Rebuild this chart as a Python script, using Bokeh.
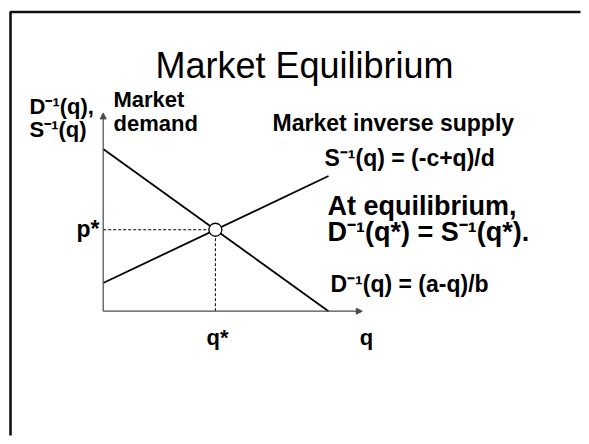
from bokeh.plotting import figure
from bokeh.models import Range1d, Arrow, NormalHead
from bokeh.core.properties import value
from bokeh.embed import file_html
from bokeh.resources import INLINE

# ---- data (economic units) ----
demand_q = [0.0, 10.0]
demand_p = [7.2, 0.0]
supply_q = [0.0, 10.0]
supply_p = [1.25, 6.0]
q_axis_max = 11.5
p_axis_max = 8.8

title_text = "Market Equilibrium"
y_axis_label = ["D\u207b\u00b9(q),", "S\u207b\u00b9(q)"]
demand_label = ["Market", "demand"]
supply_label = "Market inverse supply"
supply_eq = "S\u207b\u00b9(q) = (-c+q)/d"
demand_eq = "D\u207b\u00b9(q) = (a-q)/b"
equil_text = ["At equilibrium,", "D\u207b\u00b9(q*) = S\u207b\u00b9(q*)."]
p_star = "p*"
q_star = "q*"
q_label = "q"

# equilibrium from the two lines
sd = (demand_p[1] - demand_p[0]) / (demand_q[1] - demand_q[0])
ss = (supply_p[1] - supply_p[0]) / (supply_q[1] - supply_q[0])
qe = (supply_p[0] - demand_p[0]) / (sd - ss)
pe = demand_p[0] + sd * qe

# ---- layout mapping (screen px of page -> data units) ----
W, H = 581, 436
OFF = 0
S = 22.53
X0, Y0 = 102.7, 310.7


def dx(X):
    return (X - X0) / S


def dy(Y):
    return (Y0 - Y) / S


p = figure(width=W, height=H, output_backend="svg", toolbar_location=None,
           x_range=Range1d(dx(OFF), dx(OFF + W)), y_range=Range1d(dy(OFF + H), dy(OFF)),
           x_axis_location=None, y_axis_location=None, min_border=0)
p.grid.visible = False
p.outline_line_color = None
p.background_fill_color = "white"
p.border_fill_color = "white"

# slide border
p.line([dx(10), dx(10), dx(W - 1)], [dy(H - 1), dy(11.5), dy(11.5)],
       line_color="#111111", line_width=2.6)

# axes with arrow heads
axis_col = "#4a4a4a"
p.add_layout(Arrow(end=NormalHead(size=6, fill_color=axis_col, line_color=axis_col),
                   x_start=0, y_start=0, x_end=q_axis_max, y_end=0,
                   line_color=axis_col, line_width=1.2))
p.add_layout(Arrow(end=NormalHead(size=6, fill_color=axis_col, line_color=axis_col),
                   x_start=0, y_start=0, x_end=0, y_end=p_axis_max,
                   line_color=axis_col, line_width=1.2))

# dashed guides
p.line([0, qe], [pe, pe], line_color="black", line_width=1, line_dash="3 2")
p.line([qe, qe], [0, pe], line_color="black", line_width=1, line_dash="3 2")

# demand and supply
p.line(demand_q, demand_p, line_color="black", line_width=1.8)
p.line(supply_q, supply_p, line_color="black", line_width=1.8)

p.scatter([qe], [pe], size=13, fill_color="white", line_color="black", line_width=1.3)

FONT = value("Liberation Sans")


def txt(X, Y, s, size=22, bold=True, align="left"):
    Yc = Y - 0.35 * size
    p.text([dx(X)], [dy(Yc)], text=[s], text_font=FONT, text_font_size=f"{size}px",
           text_font_style="bold" if bold else "normal", text_align=align,
           text_baseline="alphabetic", text_color="black")


txt(304, 78, title_text, size=36, bold=False, align="center")
txt(29, 114, y_axis_label[0])
txt(29, 137, y_axis_label[1])
txt(113, 107, demand_label[0])
txt(113, 131, demand_label[1])
txt(272, 130.5, supply_label, size=23)
txt(324, 165.5, supply_eq, size=23)
txt(327, 215, equil_text[0], size=27)
txt(327, 241, equil_text[1], size=27)
txt(330, 292, demand_eq, size=23)
txt(99, 237, p_star, size=23, align="right")
txt(217, 345, q_star, align="center")
txt(366, 345, q_label, align="center")

open("out.html", "w").write(file_html(p, INLINE))
